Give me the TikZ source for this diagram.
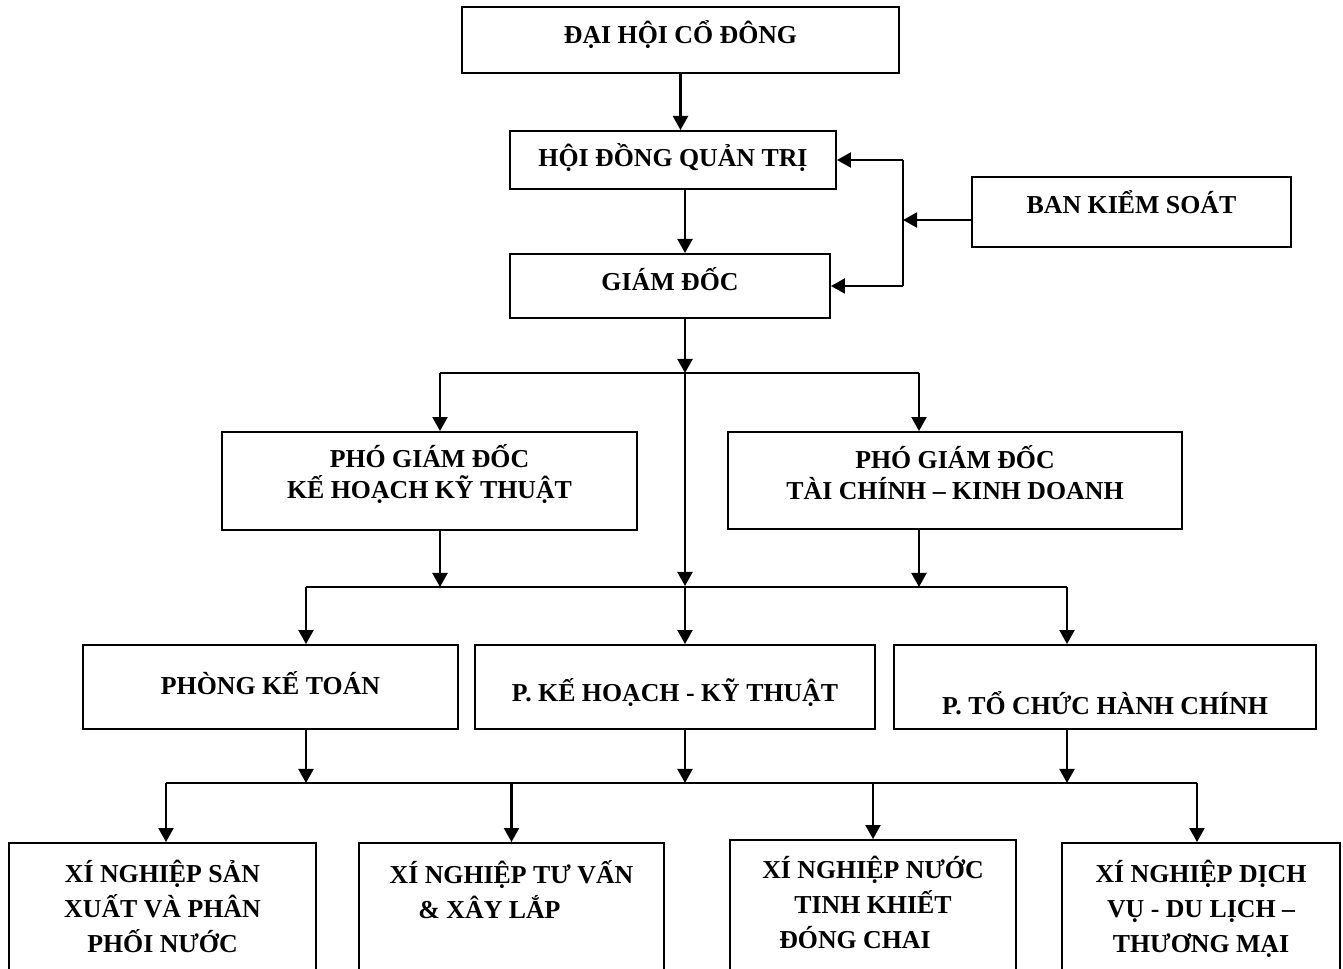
\documentclass[tikz,border=0pt]{standalone}
\usepackage{fontspec}
\setmainfont{Liberation Serif}
\usetikzlibrary{arrows.meta}

\begin{document}
\begin{tikzpicture}[
  x=0.02cm, y=-0.02cm,
  box/.style={draw, line width=1.1pt, inner sep=0pt, align=center, anchor=base,
              font=\fontsize{14.7pt}{17.6pt}\selectfont\bfseries},
  xnbox/.style={box, text height=#1, text depth=3cm,
              font=\fontsize{14.7pt}{19.9pt}\selectfont\bfseries},
  arr/.style={-{Triangle[length=8pt,width=8.5pt]}, line width=1.4pt},
  bus/.style={line width=1.4pt}
]
\clip (0,0) rectangle (1343,968);

\node[box, minimum width=8.74cm, text height=0.72cm, text depth=0.60cm] (dhcd) at (680.5,43) {ĐẠI HỘI CỔ ĐÔNG};
\node[box, minimum width=6.52cm, text height=0.70cm, text depth=0.46cm] (hdqt) at (673,166) {HỘI ĐỒNG QUẢN TRỊ};
\node[box, minimum width=6.40cm, text height=0.72cm, text depth=0.56cm] (gd) at (670,290) {GIÁM ĐỐC};
\node[box, minimum width=6.38cm, text height=0.72cm, text depth=0.68cm] (bks) at (1131.5,213) {BAN KIỂM SOÁT};

\node[box, minimum width=8.30cm, text height=1.32cm, text depth=0.64cm] (pgd1) at (429.5,498) {PHÓ GIÁM ĐỐC\\KẾ HOẠCH KỸ THUẬT};
\node[box, minimum width=9.08cm, text height=1.34cm, text depth=0.60cm] (pgd2) at (955,499) {PHÓ GIÁM ĐỐC\\TÀI CHÍNH – KINH DOANH};

\node[box, minimum width=7.50cm, text height=0.98cm, text depth=0.70cm] (pkt) at (270.5,694) {PHÒNG KẾ TOÁN};
\node[box, minimum width=8.00cm, text height=1.12cm, text depth=0.56cm] (pkh) at (675,701) {P. KẾ HOẠCH - KỸ THUẬT};
\node[box, minimum width=8.44cm, text height=1.38cm, text depth=0.30cm] (ptc) at (1105,714) {P. TỔ CHỨC HÀNH CHÍNH};

\node[xnbox=2.18cm, minimum width=6.14cm] (xn1) at (162.5,952) {XÍ NGHIỆP SẢN\\XUẤT VÀ PHÂN\\PHỐI NƯỚC};
\node[xnbox=1.50cm, minimum width=6.10cm] (xn2) at (511.5,918) {XÍ NGHIỆP TƯ VẤN\\\& XÂY LẮP\hspace*{0.88cm}};
\node[xnbox=2.16cm, minimum width=5.72cm] (xn3) at (873,948) {XÍ NGHIỆP NƯỚC\\TINH KHIẾT\\ĐÓNG CHAI\hspace*{0.72cm}};
\node[xnbox=2.18cm, minimum width=5.56cm] (xn4) at (1201,952) {XÍ NGHIỆP DỊCH\\VỤ - DU LỊCH –\\THƯƠNG MẠI};

\coordinate (sp) at (685,0);
\coordinate (bk) at (903,220);
\coordinate (j1) at (685,373);
\coordinate (j2) at (685,586);
\coordinate (j3) at (685,783);
\coordinate (b1l) at (440,373);
\coordinate (b1r) at (919,373);
\coordinate (b2l) at (306,587);
\coordinate (b2r) at (1067,587);
\coordinate (b3l) at (166,783);
\coordinate (b3r) at (1197,783);

\draw[arr] (dhcd.south) -- (dhcd.south |- hdqt.north);
\draw[arr] (hdqt.south -| sp) -- (gd.north -| sp);

\draw[arr] (bks.west |- bk) -- (bk);
\draw[bus] (bk |- hdqt.east) -- (bk |- gd.east);
\draw[arr] (bk |- hdqt.east) -- (hdqt.east);
\draw[arr] (bk |- gd.east) -- (gd.east);

\draw[arr] (gd.south -| sp) -- (j1);
\draw[arr] (j1) -- (j2);
\draw[bus] (b1l) -- (b1r);
\draw[arr] (b1l) -- (b1l |- pgd1.north);
\draw[arr] (b1r) -- (b1r |- pgd2.north);
\draw[arr] (pgd1.south -| b1l) -- (b1l |- b2l);
\draw[arr] (pgd2.south -| b1r) -- (b1r |- b2r);

\draw[bus] (b2l) -- (b2r);
\draw[arr] (b2l) -- (b2l |- pkt.north);
\draw[arr] (j2) -- (pkh.north -| j2);
\draw[arr] (b2r) -- (b2r |- ptc.north);
\draw[arr] (pkt.south -| b2l) -- (b2l |- b3l);
\draw[arr] (pkh.south -| sp) -- (j3);
\draw[arr] (ptc.south -| b2r) -- (b2r |- b3r);

\draw[bus] (b3l) -- (b3r);
\draw[arr] (b3l) -- (b3l |- xn1.north);
\draw[arr] (xn2.north |- b3l) -- (xn2.north);
\draw[arr] (xn3.north |- b3l) -- (xn3.north);
\draw[arr] (b3r) -- (b3r |- xn4.north);
\end{tikzpicture}
\end{document}
